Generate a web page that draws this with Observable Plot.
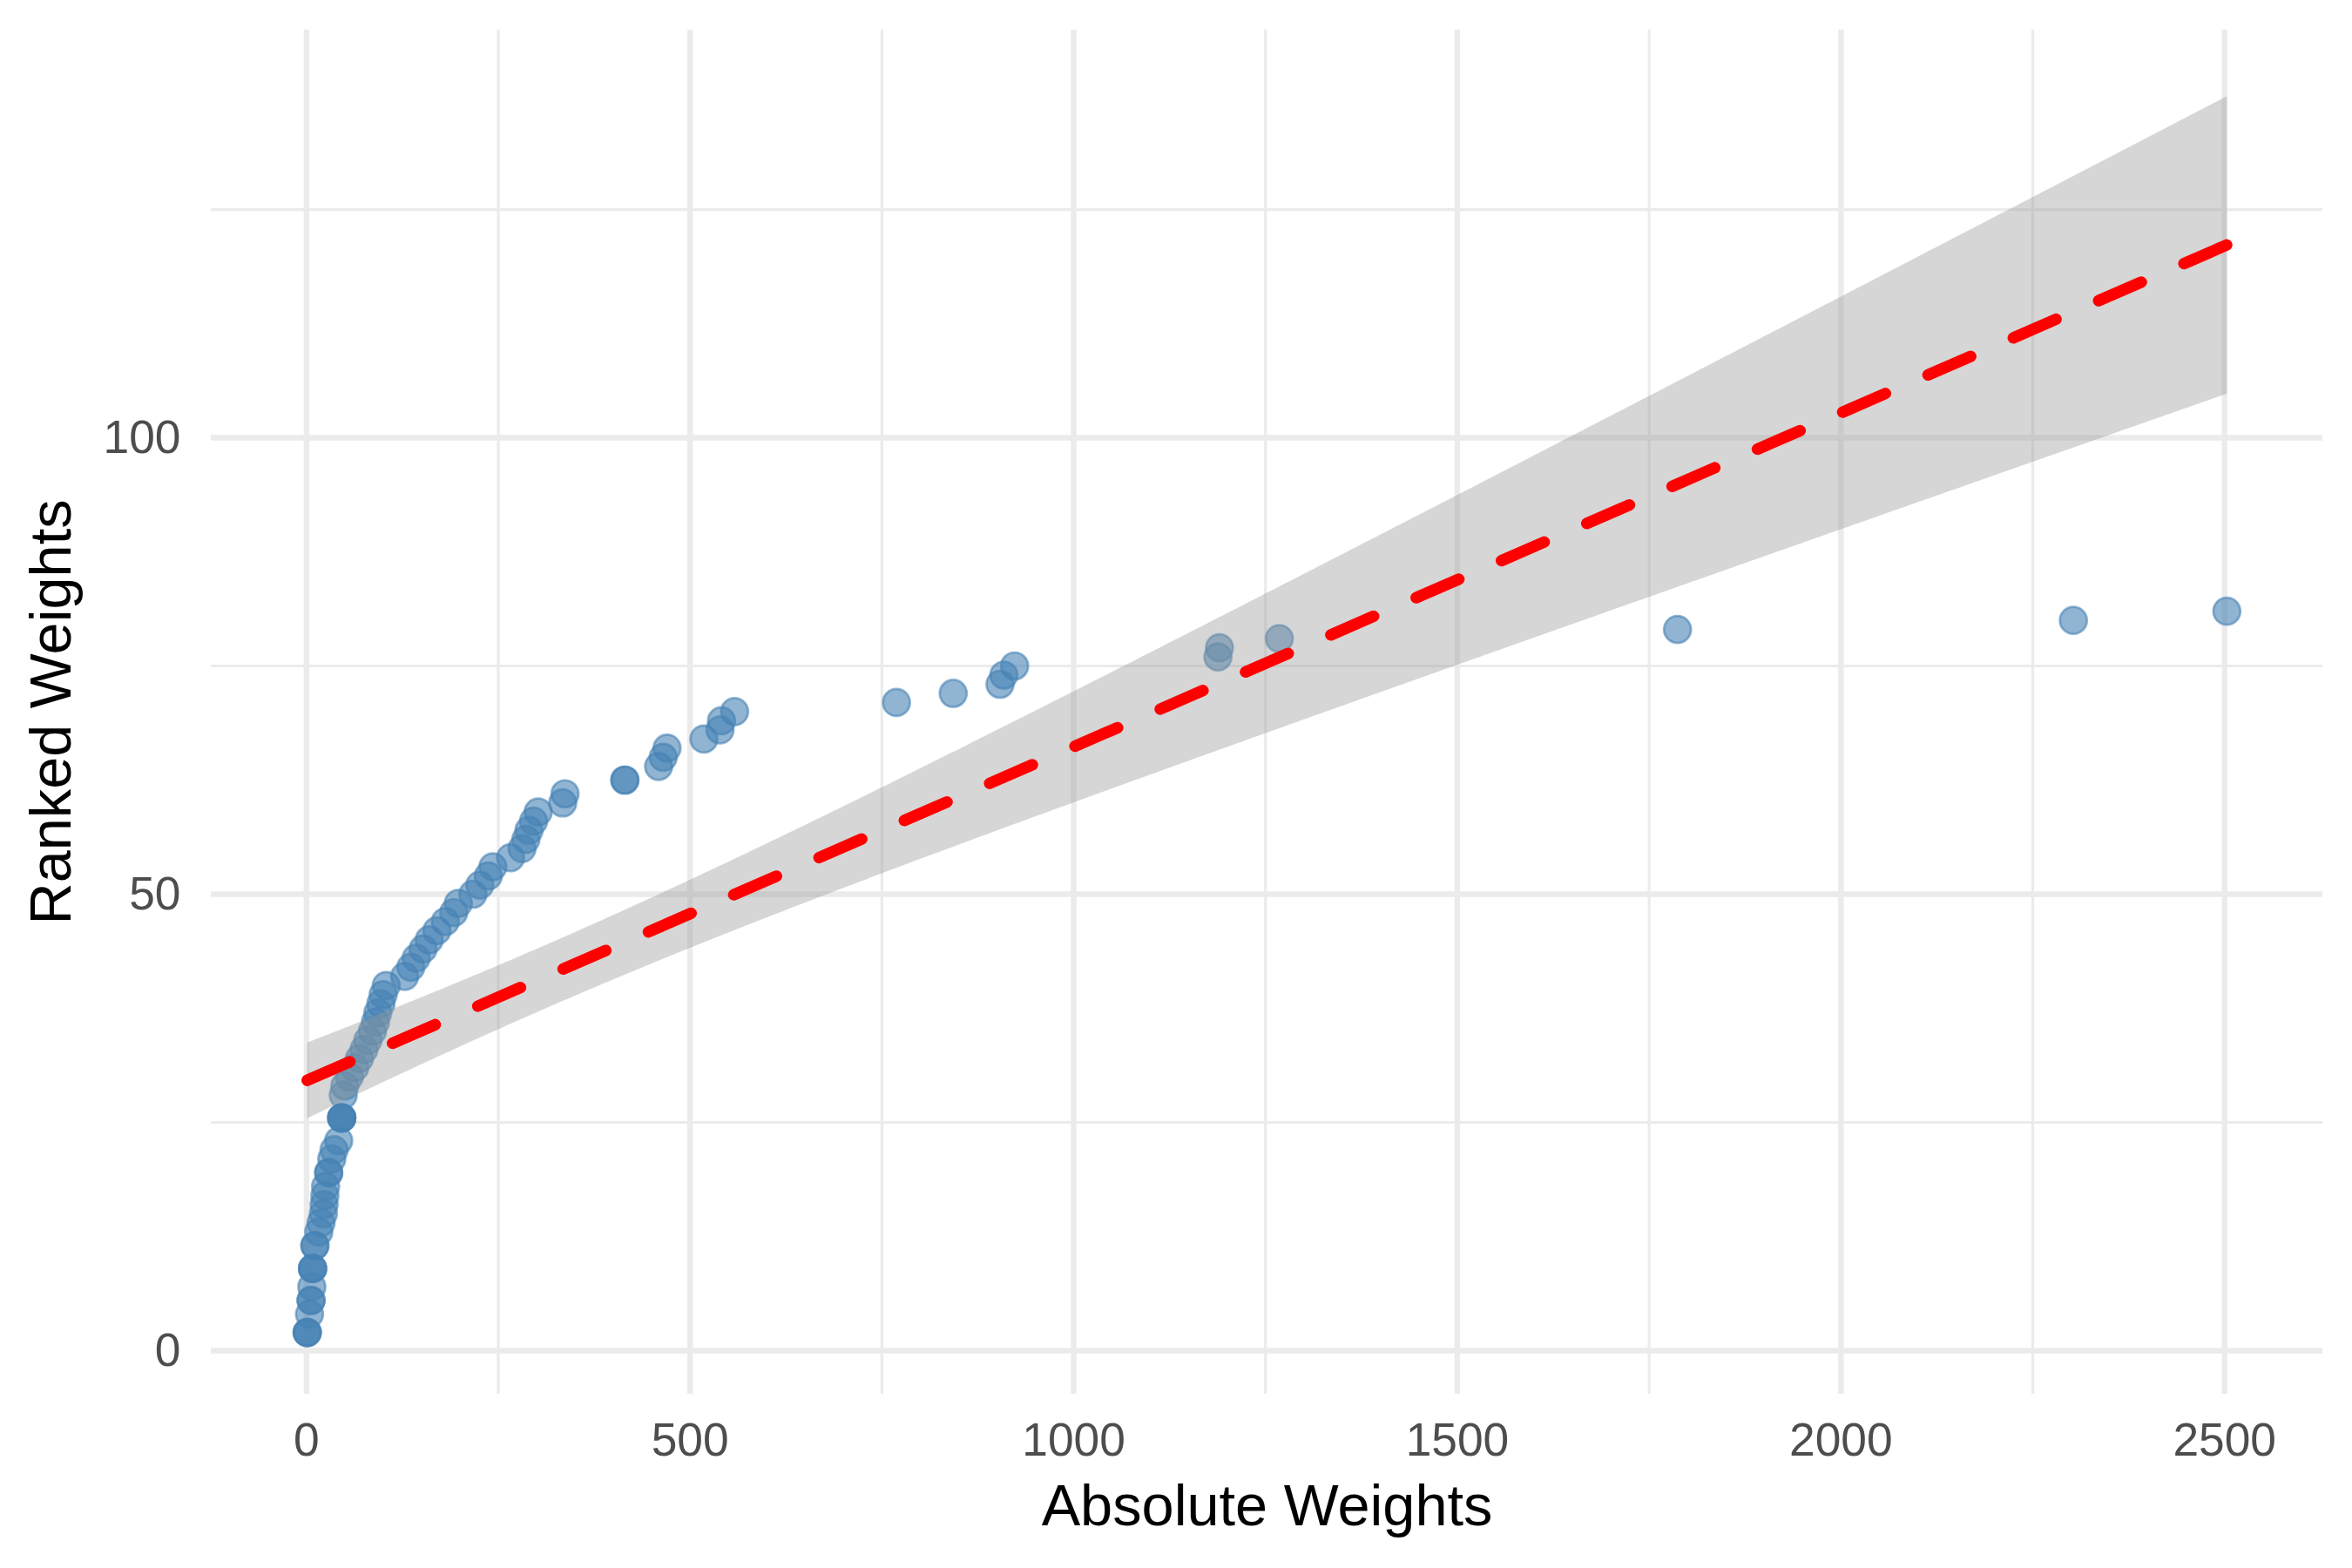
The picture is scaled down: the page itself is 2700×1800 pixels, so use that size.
<!DOCTYPE html>
<html>
<head>
<meta charset="utf-8">
<script src="https://cdn.jsdelivr.net/npm/d3@7"></script>
<script src="https://cdn.jsdelivr.net/npm/@observablehq/plot@0.6"></script>
<style>
  html, body { margin: 0; padding: 0; background: #ffffff; }
  #chart { width: 2700px; height: 1800px; }
</style>
</head>
<body>
<div id="chart"></div>
<script>
// Absolute weights (x) and their ranks (y, ties averaged)
const absWeights = [
  1, 1, 1, 4, 6, 6, 7, 8, 8, 8, 11, 11, 16, 19, 22, 23, 24, 25, 29, 29, 33, 36, 42, 46, 46, 46, 46,
  48, 50, 56, 63, 69, 75, 80, 86, 90, 93, 97, 100, 104,
  128, 136, 143, 152, 160, 170, 181, 192, 198, 217, 226, 237, 243, 266, 281, 286, 290, 296, 302, 334, 337,
  415, 415, 459, 465, 470, 518, 539, 541, 558, 769, 843, 904, 909, 923, 1188, 1190, 1268, 1787, 2303, 2503
];
const rankedWeights = [
  2, 2, 2, 4, 5.5, 5.5, 7, 9, 9, 9, 11.5, 11.5, 13, 14, 15, 16, 17, 18, 19.5, 19.5, 21, 22, 23, 25.5, 25.5, 25.5, 25.5,
  28, 29, 30, 31, 32, 33, 34, 35, 36, 37, 38, 39, 40,
  41, 42, 43, 44, 45, 46, 47, 48, 49, 50, 51, 52, 53, 54, 55, 56, 57, 58, 59, 60, 61,
  62.5, 62.5, 64, 65, 66, 67, 68, 69, 70, 71, 72, 73, 74, 75, 76, 77, 78, 79, 80, 81
];

const xTicks = [0, 500, 1000, 1500, 2000, 2500];
const xMinor = [250, 750, 1250, 1750, 2250];
const yTicks = [0, 50, 100];
const yMinor = [25, 75, 125];

const xLabel = "Absolute Weights";
const yLabel = "Ranked Weights";

const table = absWeights.map((x, i) => ({x, y: rankedWeights[i]}));

const [x0, x1] = d3.extent(absWeights);
const xPad = (x1 - x0) * 0.05;

const font = "'Liberation Sans', Arial, Helvetica, sans-serif";
const gridColor = "#EBEBEB";
const plainNum = d3.format("d");

const chart = Plot.plot({
  width: 2700,
  height: 1800,
  marginLeft: 242,
  marginRight: 34,
  marginTop: 34,
  marginBottom: 200,
  style: {fontFamily: font, background: "#ffffff"},
  x: {domain: [x0 - xPad, x1 + xPad]},
  y: {domain: [-4.77, 144.66]},
  marks: [
    Plot.gridX(xMinor, {stroke: gridColor, strokeOpacity: 1, strokeWidth: 3.2}),
    Plot.gridY(yMinor, {stroke: gridColor, strokeOpacity: 1, strokeWidth: 3.2}),
    Plot.gridX(xTicks, {stroke: gridColor, strokeOpacity: 1, strokeWidth: 6.4}),
    Plot.gridY(yTicks, {stroke: gridColor, strokeOpacity: 1, strokeWidth: 6.4}),
    Plot.dot(table, {
      x: "x", y: "y", r: 15.5,
      fill: "steelblue", fillOpacity: 0.6,
      stroke: "steelblue", strokeOpacity: 0.6, strokeWidth: 2.7
    }),
    Plot.linearRegressionY(table, {
      x: "x", y: "y",
      stroke: "#FF0000", strokeWidth: 13.3, strokeDasharray: "53.4,53.4",
      fill: "#999999", fillOpacity: 0.4, ci: 0.95
    }),
    Plot.axisX(xTicks, {
      tickSize: 0, tickPadding: 33, fontSize: 53.3, fill: "#4D4D4D", label: null,
      tickFormat: plainNum
    }),
    Plot.axisX({
      ticks: [], tickSize: 0, label: xLabel, labelAnchor: "center", labelArrow: "none",
      labelOffset: 150, fontSize: 66.7, fill: "#000000"
    }),
    Plot.axisY(yTicks, {
      tickSize: 0, tickPadding: 35, fontSize: 53.3, fill: "#4D4D4D", label: null,
      tickFormat: plainNum
    }),
    Plot.axisY({
      ticks: [], tickSize: 0, label: yLabel, labelAnchor: "center", labelArrow: "none",
      labelOffset: 209, fontSize: 66.7, fill: "#000000"
    })
  ]
});

document.getElementById("chart").appendChild(chart);
</script>
</body>
</html>
